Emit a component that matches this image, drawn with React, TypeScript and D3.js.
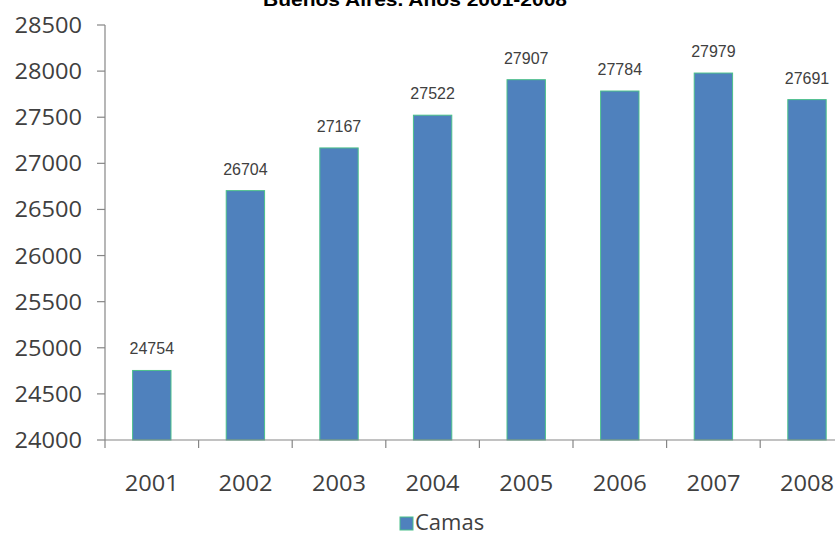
import React from "react";
import * as d3 from "d3";

const years = ["2001", "2002", "2003", "2004", "2005", "2006", "2007", "2008"];
const camas = [24754, 26704, 27167, 27522, 27907, 27784, 27979, 27691];
const yTicks = [24000, 24500, 25000, 25500, 26000, 26500, 27000, 27500, 28000, 28500];
const seriesName = "Camas";
const title = "Buenos Aires. Años 2001-2008";

const W = 835;
const H = 533;
const axisX = 105;
const bandW = 93.6;
const yBottom = 440;
const yTop = 25;

export default function App() {
  const x = d3
    .scaleBand<string>()
    .domain(years)
    .range([axisX, axisX + bandW * years.length])
    .paddingInner(0.59)
    .paddingOuter(0.295);
  const y = d3.scaleLinear().domain([24000, 28500]).range([yBottom, yTop]);
  const gridX = years.map((_, i) => axisX + i * bandW);
  const tickFont = "'Open Sans', Calibri, sans-serif";
  const color = "#4F81BD";
  const digitW = 13.5;

  return (
    <svg
      width={W}
      height={H}
      style={{ position: "absolute", left: 0, top: 0, background: "#fff" }}
    >
      <text
        x={415}
        y={6}
        textAnchor="middle"
        fontFamily="Liberation Sans, Arial, sans-serif"
        fontWeight="bold"
        fontSize={19}
        textLength={304}
        lengthAdjust="spacingAndGlyphs"
        fill="#000"
      >
        {title}
      </text>

      {/* y axis */}
      <line x1={axisX} x2={axisX} y1={y(28500)} y2={yBottom} stroke="#868686" strokeWidth={1.2} />
      {yTicks.map((t) => (
        <g key={t}>
          <line x1={axisX - 8} x2={axisX} y1={y(t)} y2={y(t)} stroke="#868686" strokeWidth={1.2} />
          <text
            x={82}
            y={y(t) + 8}
            textAnchor="end"
            fontFamily={tickFont}
            fontSize={22}
            textLength={String(t).length * digitW}
            lengthAdjust="spacingAndGlyphs"
            fill="#404040"
          >
            {t}
          </text>
        </g>
      ))}

      {/* bars */}
      {years.map((yr, i) => (
        <g key={yr}>
          <rect
            x={x(yr)!}
            y={y(camas[i])}
            width={x.bandwidth()}
            height={yBottom - y(camas[i])}
            fill={color}
            stroke="#4BC08A"
            strokeWidth={1}
          />
          <text
            x={x(yr)! + x.bandwidth() / 2}
            y={y(camas[i]) - 16}
            textAnchor="middle"
            fontFamily="Liberation Sans, Arial, sans-serif"
            fontSize={16}
            fill="#404040"
          >
            {camas[i]}
          </text>
        </g>
      ))}

      {/* x axis */}
      <line x1={axisX} x2={W} y1={yBottom} y2={yBottom} stroke="#868686" strokeWidth={1.2} />
      {gridX.map((gx) => (
        <line key={gx} x1={gx} x2={gx} y1={yBottom} y2={yBottom + 8} stroke="#868686" strokeWidth={1.2} />
      ))}
      {years.map((yr) => (
        <text
          key={yr}
          x={x(yr)! + x.bandwidth() / 2}
          y={491}
          textAnchor="middle"
          fontFamily={tickFont}
          fontSize={22}
          textLength={yr.length * digitW}
          lengthAdjust="spacingAndGlyphs"
          fill="#404040"
        >
          {yr}
        </text>
      ))}

      {/* legend */}
      <rect x={400} y={517} width={13} height={13} fill={color} stroke="#4BC08A" strokeWidth={1} />
      <text x={415} y={530} fontFamily={tickFont} fontSize={22} fill="#404040">
        {seriesName}
      </text>
    </svg>
  );
}
